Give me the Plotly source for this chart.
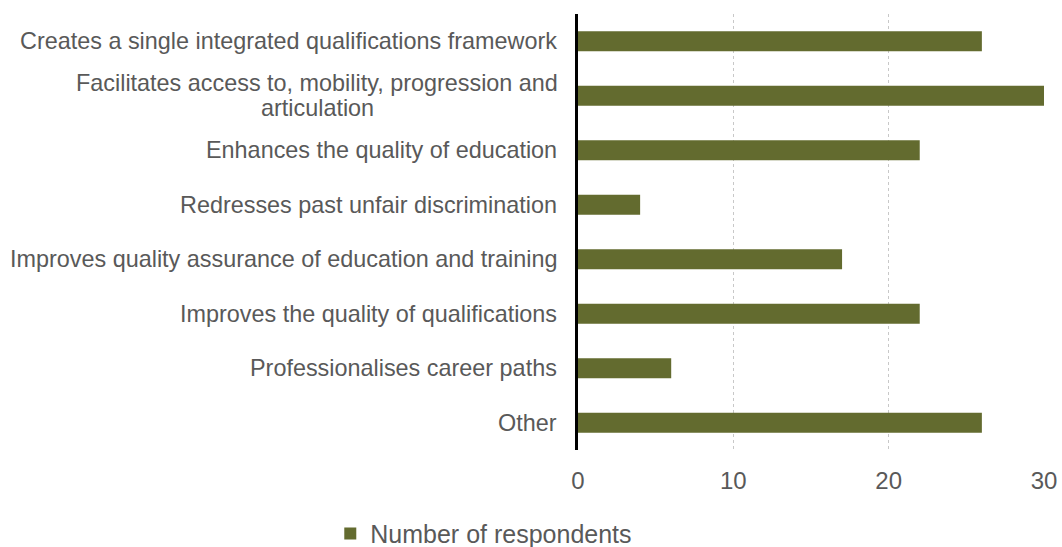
import plotly.graph_objects as go

categories = [
    "Creates a single integrated qualifications framework",
    "Facilitates access to, mobility, progression and<br>articulation",
    "Enhances the quality of education",
    "Redresses past unfair discrimination",
    "Improves quality assurance of education and training",
    "Improves the quality of qualifications",
    "Professionalises career paths",
    "Other",
]
respondents = [26, 30, 22, 4, 17, 22, 6, 26]
x_ticks = [0, 10, 20, 30]

BAR_COLOR = "#636B2F"
TEXT_COLOR = "#595959"
FONT = "Liberation Sans, Arial, sans-serif"
LABEL_SIZE = 23.4
LABEL_GAP = 20     # px between label block and the axis line
LINE_STEP = 25     # px between lines of a wrapped category label
WRAP_HALF = 241    # half the width of the widest wrapped line, px

fig = go.Figure()
fig.add_trace(go.Bar(
    x=respondents,
    y=categories,
    orientation="h",
    name="Number of respondents",
    marker=dict(color=BAR_COLOR, line=dict(width=0)),
    width=0.37,
))

# category labels to the left of the axis; wrapped labels are drawn line by
# line (centred on each other) so the line spacing stays tight
for cat in categories:
    lines = cat.split("<br>")
    n = len(lines)
    for i, line in enumerate(lines):
        fig.add_annotation(
            x=0, xref="paper", y=cat, yref="y",
            text=line, showarrow=False,
            xanchor="right" if n == 1 else "center",
            yanchor="middle", align="center",
            xshift=-LABEL_GAP if n == 1 else -(LABEL_GAP + WRAP_HALF),
            yshift=((n - 1) / 2 - i) * LINE_STEP,
            borderpad=0,
            font=dict(family=FONT, size=LABEL_SIZE, color=TEXT_COLOR),
        )

fig.update_layout(
    width=1062, height=547,
    margin=dict(l=578, r=18, t=14, b=97),
    paper_bgcolor="white", plot_bgcolor="white",
    font=dict(family=FONT, color=TEXT_COLOR),
    showlegend=True,
    legend=dict(
        orientation="h",
        xref="container", yref="container",
        x=0.311, y=0.024, xanchor="left", yanchor="middle",
        font=dict(family=FONT, size=25, color=TEXT_COLOR),
        itemwidth=30,
    ),
    bargap=0.63,
)
fig.update_xaxes(
    range=[0, 30], tickvals=x_ticks, automargin=False,
    showgrid=True, gridcolor="#C8C8C8", griddash="dot", gridwidth=1,
    zeroline=False, showline=False,
    tickfont=dict(family=FONT, size=24, color=TEXT_COLOR),
    ticks="", ticklabelstandoff=14,
)
fig.update_yaxes(
    autorange="reversed", showticklabels=False, showgrid=False,
    showline=True, linecolor="black", linewidth=2.5,
    zeroline=False, ticks="", automargin=False,
)

fig.write_html("out.html")
